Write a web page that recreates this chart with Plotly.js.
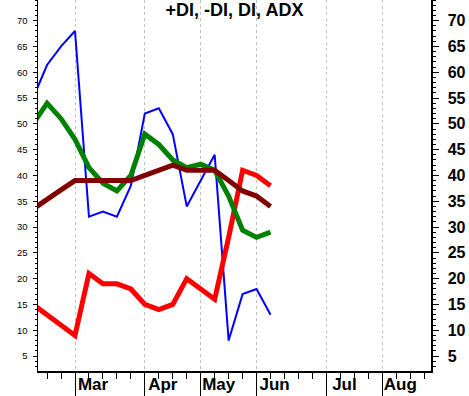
<!DOCTYPE html>
<html>
<head>
<meta charset="utf-8">
<script src="https://cdn.plot.ly/plotly-3.0.1.min.js"></script>
<style>html,body{margin:0;padding:0;background:#fff;}#chart{width:469px;height:396px;}</style>
</head>
<body>
<div id="chart"></div>
<script>
// Weekly dates
const dates = ["2015-02-09","2015-02-16","2015-02-23","2015-03-02","2015-03-09","2015-03-16","2015-03-23","2015-03-30","2015-04-06","2015-04-13","2015-04-20","2015-04-27","2015-05-04","2015-05-11","2015-05-18","2015-05-25","2015-06-01","2015-06-08"];
const plusDI  = [55, 61.4, 65, 68, 32, 33, 32, 38, 52, 53, 48, 34, 39, 44, 8, 17, 18, 13];
const minusDI = [15, 13, 11, 9, 21, 19, 19, 18, 15, 14, 15, 20, 18, 16, 28, 41, 40, 38];
const DI      = [50, 54, 51, 47, 41.5, 38.5, 37, 40, 48, 46, 43, 41.5, 42.2, 41, 36, 29.4, 28, 29];
const ADX     = [33.5, 35.5, 37.2, 39, 39, 39, 39, 39, 40, 41, 42, 41, 41, 41, 39, 37, 36, 34];

const monthTicks = ["2015-03-02","2015-04-06","2015-05-04","2015-06-01","2015-07-06","2015-08-03"];
const monthLabels = ["Mar","Apr","May","Jun","Jul","Aug"];
const yTicks = [5,10,15,20,25,30,35,40,45,50,55,60,65,70];

const traces = [
  {x: dates, y: plusDI, mode: 'lines', line: {color: '#0000ff', width: 2}, name: '+DI'},
  {x: dates, y: minusDI, mode: 'lines', line: {color: '#ff0000', width: 5}, name: '-DI'},
  {x: dates, y: DI, mode: 'lines', line: {color: '#008000', width: 5}, name: 'DI'},
  {x: dates, y: ADX, mode: 'lines', line: {color: '#800000', width: 5}, name: 'ADX'},
  {x: dates, y: ADX, mode: 'lines', yaxis: 'y2', line: {width: 0}, opacity: 0, hoverinfo: 'skip', showlegend: false}
];

const yr = [2.1, 74];
const layout = {
  width: 469, height: 396,
  margin: {l: 38, r: 38, t: 0, b: 25},
  paper_bgcolor: '#ffffff', plot_bgcolor: '#ffffff',
  showlegend: false,
  title: {text: '+DI, -DI, DI, ADX', x: 0.5, xref: 'paper', y: 0.992, yanchor: 'top',
    font: {family: 'Liberation Sans, Arial, sans-serif', size: 18, color: '#000', weight: 700}},
  xaxis: {
    type: 'date', range: ['2015-02-11 11:00', '2015-08-27 10:00'],
    tickmode: 'array', tickvals: monthTicks, ticktext: monthLabels,
    ticks: 'outside', ticklen: 25, tickwidth: 1, tickcolor: '#000',
    ticklabelshift: 18, ticklabelstandoff: -28,
    tickfont: {family: 'Liberation Sans, Arial, sans-serif', size: 17, color: '#000', weight: 700},
    showgrid: true, gridcolor: '#c0c0c0', griddash: '3px,3px', gridwidth: 1,
    showline: true, linecolor: '#000', linewidth: 2, mirror: false,
    zeroline: false, fixedrange: true,
    minor: {dtick: 604800000, tick0: '2015-03-02', ticks: 'outside', ticklen: 6, tickcolor: '#000', tickwidth: 1, showgrid: false}
  },
  yaxis: {
    range: yr, tickmode: 'array', tickvals: yTicks,
    ticks: 'outside', ticklen: 4, tickcolor: '#000', tickwidth: 1,
    ticklabelstandoff: 3,
    tickfont: {family: 'Liberation Sans, Arial, sans-serif', size: 9.5, color: '#000'},
    showgrid: false, zeroline: false,
    showline: true, linecolor: '#000', linewidth: 1.5,
    minor: {dtick: 1, tick0: 0, ticks: 'outside', ticklen: 2, tickcolor: '#000', tickwidth: 1, showgrid: false}
  },
  yaxis2: {
    overlaying: 'y', side: 'right', range: yr, tickmode: 'array', tickvals: yTicks,
    ticks: 'outside', ticklen: 6, tickcolor: '#000', tickwidth: 1,
    ticklabelstandoff: 6,
    tickfont: {family: 'Liberation Sans, Arial, sans-serif', size: 16, color: '#000', weight: 700},
    showgrid: false, zeroline: false,
    showline: true, linecolor: '#000', linewidth: 1.5,
    minor: {dtick: 1, tick0: 0, ticks: 'outside', ticklen: 3, tickcolor: '#000', tickwidth: 1, showgrid: false}
  }
};

Plotly.newPlot('chart', traces, layout, {staticPlot: true, displayModeBar: false});
</script>
</body>
</html>
